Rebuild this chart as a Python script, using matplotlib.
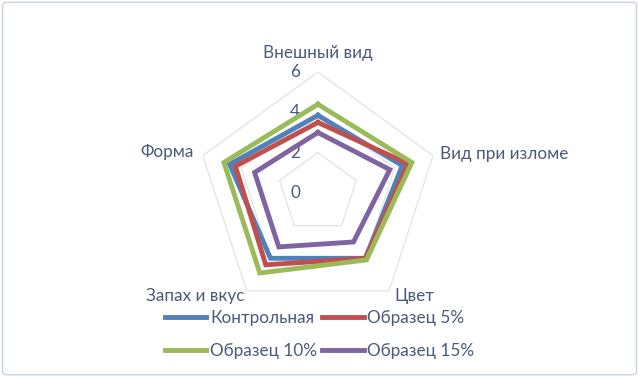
import matplotlib.pyplot as plt
import numpy as np
from matplotlib.patches import FancyBboxPatch

categories = ["Внешный вид", "Вид при изломе", "Цвет", "Запах и вкус", "Форма"]
series_names = ["Контрольная", "Образец 5%", "Образец 10%", "Образец 15%"]
control = [3.85, 4.4, 4.0, 4.0, 4.6]
sample_5 = [3.5, 4.7, 4.0, 4.4, 4.3]
sample_10 = [4.4, 4.9, 4.1, 4.9, 4.9]
sample_15 = [3.0, 3.75, 3.0, 3.3, 3.3]
r_ticks = [0, 2, 4, 6]

colors = ["#4F81BD", "#C0504D", "#9BBB59", "#8064A2"]
text_color = "#4A5A78"
fs = 12.3

plt.rcParams["font.family"] = ["Lato", "DejaVu Sans"]

fig = plt.figure(figsize=(6.39, 3.77), dpi=100)
fig.patches.append(FancyBboxPatch((0.004, 0.006), 0.992, 0.988, boxstyle="round,pad=0,rounding_size=0.008",
                                  transform=fig.transFigure, fill=False, ec="#C9D3E6", lw=1.0))

ax = fig.add_axes([0.308, 0.167, 0.379, 0.642], projection="polar")
ax.set_theta_offset(np.pi / 2)
ax.set_theta_direction(-1)
ax.set_ylim(0, 6)
ax.grid(False)
ax.spines["polar"].set_visible(False)
ax.set_xticks([])
ax.set_yticks([])
ax.patch.set_alpha(0)

n = len(categories)
angles = np.linspace(0, 2 * np.pi, n, endpoint=False)
closed = np.append(angles, angles[0])

# pentagon grid
for r in r_ticks[1:]:
    ax.plot(closed, [r] * (n + 1), color="#E3E3E3", lw=0.9, zorder=1)

for r in r_ticks:
    ax.annotate(str(r), (0, r), xytext=(-16.5, 0), textcoords="offset points",
                ha="center", va="center", fontsize=fs, color=text_color)

data = [control, sample_5, sample_10, sample_15]
lines = []
for vals, name, c in zip(data, series_names, colors):
    v = list(vals) + [vals[0]]
    (ln,) = ax.plot(closed, v, color=c, lw=3.5, label=name, zorder=3,
                    solid_joinstyle="miter")
    lines.append(ln)

label_pos = [
    ((0, 6), (0, 14), "center", "center"),
    ((angles[1], 6), (5, 1), "left", "center"),
    ((angles[2], 6), (18, -4), "center", "center"),
    ((angles[3], 6), (-37, -4), "center", "center"),
    ((angles[4], 6), (-6.5, 2.5), "right", "center"),
]
for cat, (xy, off, ha, va) in zip(categories, label_pos):
    ax.annotate(cat, xy, xytext=off, textcoords="offset points",
                ha=ha, va=va, fontsize=fs, color=text_color, annotation_clip=False)

order = [0, 2, 1, 3]
fig.legend([lines[i] for i in order], [series_names[i] for i in order],
           ncol=2, loc="center", bbox_to_anchor=(0.50, 0.113), frameon=False,
           fontsize=fs, labelcolor=text_color, handlelength=2.45, handletextpad=0.2,
           columnspacing=0.3, labelspacing=0.95, borderpad=0)

fig.savefig("out.png", dpi=100)
